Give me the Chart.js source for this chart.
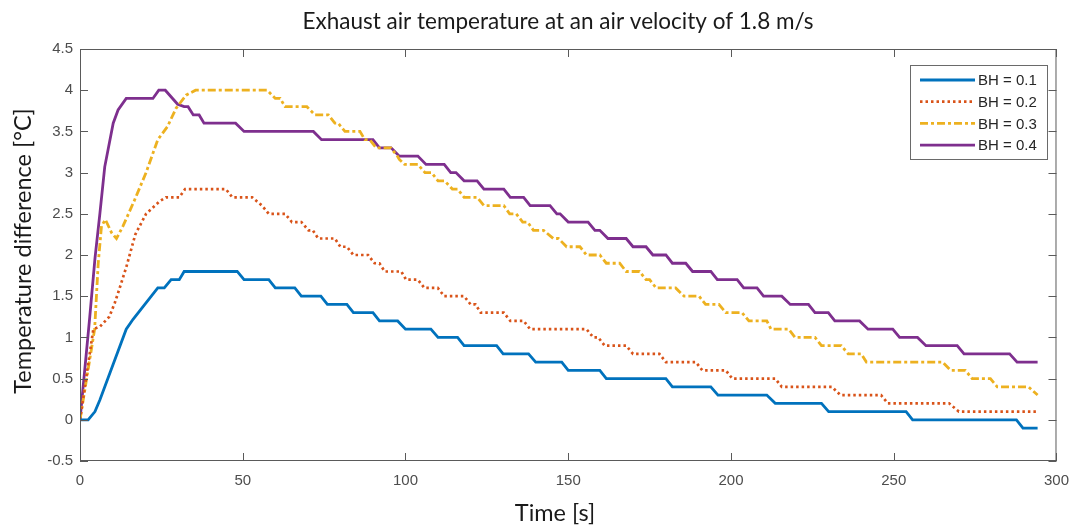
<!DOCTYPE html>
<html>
<head>
<meta charset="utf-8">
<script src="https://cdn.jsdelivr.net/npm/chart.js@4"></script>
<style>
  html, body { margin: 0; padding: 0; background: #fff; }
  #wrap { width: 1080px; height: 529px; }
</style>
</head>
<body>
<div id="wrap"><canvas id="chart" width="1080" height="529"></canvas></div>
<script>
// — data: [time s, temperature difference °C] —
const bh01 = [[0,0],[2.5,0],[4.6,0.1],[6.1,0.24],[14.2,1.1],[16.3,1.22],[23.9,1.6],[25.9,1.6],[28,1.7],[30.5,1.7],[32,1.8],[48.3,1.8],
  [50.4,1.7],[58,1.7],[60,1.6],[66,1.6],[68,1.5],[74,1.5],[76,1.4],[82,1.4],[84,1.3],[90,1.3],[92,1.2],[97.6,1.2],
  [100,1.1],[107.8,1.1],[110,1.0],[116,1.0],[118,0.9],[128,0.9],[130,0.8],[137.8,0.8],[140,0.7],[148,0.7],[150,0.6],
  [159.7,0.6],[161.7,0.5],[180,0.5],[182,0.4],[193.8,0.4],[196,0.3],[211,0.3],[213.6,0.2],[227.8,0.2],[230,0.1],
  [253.8,0.1],[255.8,0],[287.7,0],[289.7,-0.1],[294.2,-0.1]];

const bh02 = [[0,0],[4.1,1.1],[6.1,1.13],[9,1.25],[10.7,1.42],[12.2,1.6],[14.2,1.85],[17,2.25],[20.3,2.5],[24.4,2.65],[26.4,2.7],
  [30.5,2.7],[32.3,2.8],[44.8,2.8],[46.8,2.7],[52.9,2.7],[55.9,2.6],[58,2.5],[63,2.5],[65.1,2.4],[68,2.4],[70.2,2.3],
  [71.5,2.3],[73.2,2.2],[78.3,2.2],[80,2.1],[82,2.1],[84,2.0],[88.5,2.0],[90.5,1.9],[92,1.9],[93.6,1.8],[98.7,1.8],
  [100.2,1.7],[103.8,1.7],[105.8,1.6],[109.9,1.6],[111.9,1.5],[118,1.5],[120,1.4],[121.5,1.4],[123.1,1.3],[130.2,1.3],
  [132.2,1.2],[136.3,1.2],[138.3,1.1],[155.6,1.1],[157.7,1.0],[159.2,1.0],[161.2,0.9],[167.8,0.9],[169.9,0.8],[178,0.8],
  [180,0.7],[189.2,0.7],[191.2,0.6],[198.4,0.6],[200.4,0.5],[213.6,0.5],[215.6,0.4],[231,0.4],[233.6,0.3],[246.1,0.3],
  [248.2,0.2],[267,0.2],[270,0.1],[294.2,0.1]];

const bh03 = [[0,0],[4.5,1.1],[5.6,1.9],[6.6,2.35],[7.8,2.43],[9.7,2.27],[11.2,2.2],[13.2,2.35],[16.8,2.67],[20.3,3.0],[23.9,3.4],
  [26.9,3.56],[29.5,3.78],[32.6,3.94],[35.5,4.0],[57.5,4.0],[60,3.9],[61.5,3.9],[63,3.8],[69.7,3.8],[72.2,3.7],[76.3,3.7],
  [78.3,3.6],[79.3,3.6],[81.4,3.5],[86,3.5],[87.5,3.4],[89,3.4],[91,3.3],[95.5,3.3],[97.5,3.2],[98.1,3.16],[99.7,3.1],
  [103.8,3.1],[106,3.0],[108,3.0],[110,2.9],[112,2.9],[114.4,2.8],[116,2.8],[118,2.7],[122,2.7],[124.1,2.6],[130.2,2.6],
  [132,2.5],[134,2.5],[136,2.4],[137.5,2.4],[139.3,2.3],[142.4,2.3],[145.4,2.2],[147,2.2],[149.5,2.1],[153.6,2.1],
  [155.6,2.0],[159.7,2.0],[161.7,1.9],[165.8,1.9],[167.8,1.8],[171.9,1.8],[173.9,1.7],[175,1.7],[177,1.6],[183,1.6],
  [185.6,1.5],[190.2,1.5],[192.2,1.4],[196.3,1.4],[198.4,1.3],[203.4,1.3],[205.5,1.2],[211,1.2],[212.3,1.1],[217.7,1.1],
  [219.7,1.0],[225.8,1.0],[227.8,0.9],[233.9,0.9],[236,0.8],[240,0.8],[241.6,0.7],[265,0.7],[267.5,0.6],[272,0.6],
  [274.1,0.5],[279.7,0.5],[281.8,0.4],[291.4,0.4],[294.2,0.3]];

const bh04 = [[0,0],[3,1.25],[4.6,1.96],[6.1,2.5],[7.6,3.07],[10.2,3.6],[11.7,3.76],[14.2,3.9],[22.4,3.9],[24.2,4.0],[26.2,4.0],
  [30,3.83],[32,3.8],[33.2,3.8],[34.8,3.7],[36.6,3.7],[38.1,3.6],[47.8,3.6],[50.4,3.5],[71.7,3.5],[74.2,3.4],[90,3.4],
  [92,3.3],[95.6,3.3],[98.1,3.2],[103.8,3.2],[106.3,3.1],[111.9,3.1],[113.9,3.0],[115.5,3.0],[118,2.9],[122,2.9],
  [124.1,2.8],[130.2,2.8],[132.2,2.7],[136.3,2.7],[138.3,2.6],[144.4,2.6],[146.5,2.5],[147.5,2.5],[150,2.4],[156.1,2.4],
  [158.2,2.3],[159.7,2.3],[162.2,2.2],[167.8,2.2],[169.9,2.1],[173.9,2.1],[176,2.0],[180,2.0],[182,1.9],[186.1,1.9],
  [188.2,1.8],[193.8,1.8],[195.8,1.7],[201.9,1.7],[203.9,1.6],[208,1.6],[210,1.5],[215.6,1.5],[218.2,1.4],[223.8,1.4],
  [225.8,1.3],[229.9,1.3],[231.9,1.2],[239.5,1.2],[242.1,1.1],[249.7,1.1],[251.8,1.0],[257.3,1.0],[259.9,0.9],[269.5,0.9],
  [271.6,0.8],[285.6,0.8],[287.9,0.7],[294.2,0.7]];

const seriesLabels = ['BH = 0.1', 'BH = 0.2', 'BH = 0.3', 'BH = 0.4'];
const titleText  = 'Exhaust air temperature at an air velocity of 1.8 m/s';
const xAxisLabel = 'Time [s]';
const yAxisLabel = 'Temperature difference [°C]';

const toXY = pts => pts.map(([x, y]) => ({ x, y }));

// — frame, inward ticks, legend and texts (MATLAB look) —
const matlabFrame = {
  id: 'matlabFrame',
  afterDraw(chart) {
    const { ctx, chartArea: a, scales } = chart;
    const tl = 8;
    ctx.save();
    ctx.strokeStyle = '#5a5a5a';
    ctx.lineWidth = 1;
    ctx.strokeRect(a.left + 0.5, a.top + 0.5, a.right - a.left - 1, a.bottom - a.top - 1);
    ctx.beginPath();
    scales.x.ticks.forEach(t => {
      const px = Math.round(scales.x.getPixelForValue(t.value)) + 0.5;
      ctx.moveTo(px, a.bottom); ctx.lineTo(px, a.bottom - tl);
      ctx.moveTo(px, a.top);    ctx.lineTo(px, a.top + tl);
    });
    scales.y.ticks.forEach(t => {
      const py = Math.round(scales.y.getPixelForValue(t.value)) + 0.5;
      ctx.moveTo(a.left, py);  ctx.lineTo(a.left + tl, py);
      ctx.moveTo(a.right, py); ctx.lineTo(a.right - tl, py);
    });
    ctx.stroke();

    // legend box
    const lx = 910, ly = 65, lw = 137, lh = 94;
    ctx.fillStyle = '#fff';
    ctx.fillRect(lx, ly, lw, lh);
    ctx.strokeStyle = '#6a6a6a';
    ctx.strokeRect(lx + 0.5, ly + 0.5, lw, lh);
    ctx.font = '15px "Liberation Sans", Arial, sans-serif';
    ctx.textBaseline = 'middle';
    chart.data.datasets.forEach((ds, i) => {
      const yy = ly + 15 + i * 21.7;
      ctx.save();
      ctx.strokeStyle = ds.borderColor;
      ctx.lineWidth = ds.borderWidth;
      ctx.setLineDash(ds.borderDash || []);
      ctx.beginPath();
      ctx.moveTo(lx + 10, yy); ctx.lineTo(lx + 65, yy);
      ctx.stroke();
      ctx.restore();
      ctx.fillStyle = '#262626';
      ctx.textAlign = 'left';
      ctx.fillText(ds.label, lx + 68, yy + 1);
    });

    // title and axis labels
    ctx.fillStyle = '#1a1a1a';
    ctx.textAlign = 'center';
    ctx.font = '22.5px Lato, "Open Sans", sans-serif';
    ctx.fillText(titleText, 558, 22);
    ctx.font = '23.5px Lato, "Open Sans", sans-serif';
    ctx.fillText(xAxisLabel, 555, 513);
    ctx.translate(23, 251);
    ctx.rotate(-Math.PI / 2);
    ctx.fillText(yAxisLabel, 0, 0);
    ctx.restore();
  }
};

Chart.defaults.font.family = '"Liberation Sans", Arial, sans-serif';
Chart.defaults.font.size = 15;
Chart.defaults.color = '#4d4d4d';

const ctx = document.getElementById('chart').getContext('2d');
new Chart(ctx, {
  type: 'line',
  data: {
    datasets: [
      { label: seriesLabels[0], data: toXY(bh01), borderColor: '#0072BD', borderWidth: 2.8 },
      { label: seriesLabels[1], data: toXY(bh02), borderColor: '#D95319', borderWidth: 2.7, borderDash: [2.5, 3] },
      { label: seriesLabels[2], data: toXY(bh03), borderColor: '#EDB120', borderWidth: 2.8, borderDash: [8, 3, 3, 3] },
      { label: seriesLabels[3], data: toXY(bh04), borderColor: '#7E2F8E', borderWidth: 2.8 }
    ]
  },
  options: {
    responsive: false,
    animation: false,
    devicePixelRatio: 1,
    layout: { padding: { top: 49, right: 17, left: 0, bottom: 0 } },
    elements: {
      point: { radius: 0, hoverRadius: 0 },
      line: { tension: 0, fill: false }
    },
    plugins: {
      legend: { display: false },
      title: { display: false },
      tooltip: { enabled: false }
    },
    scales: {
      x: {
        type: 'linear',
        min: 0, max: 300,
        grid: { display: false, drawTicks: false },
        border: { display: false },
        ticks: { stepSize: 50, padding: 11, maxRotation: 0 },
        afterFit: s => { s.height = 68; }
      },
      y: {
        min: -0.5, max: 4.5,
        grid: { display: false, drawTicks: false },
        border: { display: false },
        ticks: { stepSize: 0.5, padding: 7, callback: v => String(Math.round(v * 10) / 10) },
        afterFit: s => { s.width = 80; }
      }
    }
  },
  plugins: [matlabFrame]
});
</script>
</body>
</html>
